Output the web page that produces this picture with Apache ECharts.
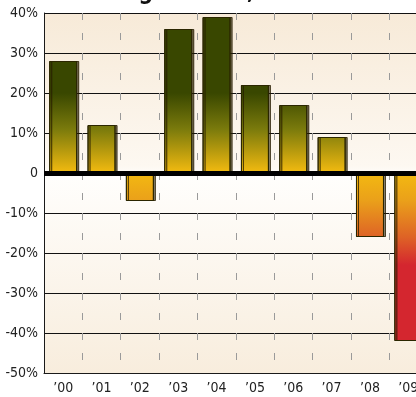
<!DOCTYPE html>
<html>
<head>
<meta charset="utf-8">
<style>
  html, body { margin: 0; padding: 0; background: #ffffff; overflow: hidden; }
  #chart { width: 428px; height: 397px; }
</style>
<script src="https://cdn.jsdelivr.net/npm/echarts@6/dist/echarts.min.js"></script>
</head>
<body>
<div id="chart"></div>
<script>
// Year-over-year change, 2000-2009
const years = ['\u201900', '\u201901', '\u201902', '\u201903', '\u201904', '\u201905', '\u201906', '\u201907', '\u201908', '\u201909'];
const changes = [28, 12, -7, 36, 39, 22, 17, 9, -16, -42];
const yTicks = { min: -50, max: 40, step: 10 };
const titleText = 'Trading Results, 2000\u20132009';

const FONT = '"Liberation Sans Narrow", "DejaVu Sans Condensed", "Roboto Condensed", sans-serif';

const chart = echarts.init(document.getElementById('chart'), null, { renderer: 'canvas' });

// Plot-area wash: beige at the extremes, near-white around zero
const span = yTicks.max - yTicks.min;
const zeroFrac = yTicks.max / span;
const plotWash = new echarts.graphic.LinearGradient(0, 0, 0, 1, [
  { offset: 0, color: '#f7ead8' },
  { offset: zeroFrac - 0.02, color: '#fdf8f1' },
  { offset: zeroFrac + 0.01, color: '#fffefc' },
  { offset: 1, color: '#f8eddd' }
]);

function baseOption(posFill, negFill) {
  return {
    animation: false,
    backgroundColor: '#ffffff',
    grid: {
      left: 44, top: 13, bottom: 24, right: 0.5,
      show: true, backgroundColor: plotWash, borderWidth: 0
    },
    graphic: [{
      type: 'text', left: 66, top: -18, z: 10,
      style: { text: titleText, font: 'bold 23px ' + FONT, fill: '#111' }
    }],
    xAxis: {
      type: 'category',
      data: years,
      boundaryGap: true,
      axisLine: { show: true, onZero: false, lineStyle: { color: '#1a1a1a', width: 1 } },
      axisTick: { show: false },
      axisLabel: { color: '#222', fontFamily: FONT, fontSize: 14, margin: 8, interval: 0 },
      splitLine: {
        show: true, interval: 0,
        lineStyle: { color: '#9a9a9a', width: 1, type: [7, 13], dashOffset: 0 }
      }
    },
    yAxis: {
      type: 'value',
      min: yTicks.min, max: yTicks.max, interval: yTicks.step,
      axisLine: { show: true, lineStyle: { color: '#1a1a1a', width: 1 } },
      axisTick: { show: false },
      axisLabel: {
        color: '#222', fontFamily: FONT, fontSize: 14, margin: 6,
        formatter: v => (v === 0 ? '0' : v + '%')
      },
      splitLine: { show: true, lineStyle: { color: '#111', width: 1 } }
    },
    series: [{
      type: 'bar',
      barWidth: 28,
      data: changes.map(v => ({
        value: v,
        itemStyle: { color: v >= 0 ? posFill : negFill }
      })),
      itemStyle: {
        borderColor: '#2b2600', borderWidth: 1,
        shadowColor: 'rgba(40,30,0,0.55)', shadowBlur: 0, shadowOffsetX: 2, shadowOffsetY: 0
      },
      markLine: {
        silent: true, symbol: 'none', animation: false,
        label: { show: false },
        lineStyle: { color: '#000', width: 5, type: 'solid' },
        data: [{ yAxis: 0 }]
      }
    }]
  };
}

chart.setOption(baseOption('#3a4800', '#d42630'));

// Fills share one vertical ramp measured in value space, so short bars
// show only the lighter end of the ramp.
const py = v => chart.convertToPixel({ yAxisIndex: 0 }, v);
const y0 = py(0);
const yPosTop = py(20);
const yNegBot = py(-23);

const posFill = new echarts.graphic.LinearGradient(0, yPosTop, 0, y0, [
  { offset: 0, color: '#394700' },
  { offset: 0.45, color: '#7a7a0c' },
  { offset: 1, color: '#f4bb10' }
], true);
const negFill = new echarts.graphic.LinearGradient(0, y0, 0, yNegBot, [
  { offset: 0, color: '#f3b911' },
  { offset: 0.3, color: '#eaa01a' },
  { offset: 0.7, color: '#de6226' },
  { offset: 1, color: '#d4262f' }
], true);

chart.setOption(baseOption(posFill, negFill), true);
</script>
</body>
</html>
